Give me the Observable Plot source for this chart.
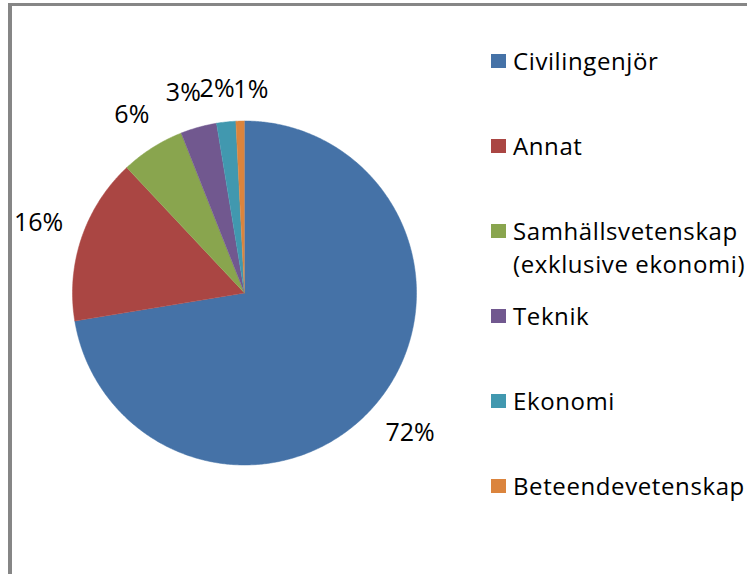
<!DOCTYPE html>
<html>
<head>
<meta charset="utf-8">
<script src="https://cdn.jsdelivr.net/npm/d3@7"></script>
<script src="https://cdn.jsdelivr.net/npm/@observablehq/plot@0.6"></script>
<style>
  html, body { margin: 0; padding: 0; background: #fff; }
  #wrap { position: relative; width: 747px; height: 574px; overflow: hidden; font-family: "Open Sans", sans-serif; }
  #frame { position: absolute; left: 8px; top: 3px; width: 800px; height: 700px; border-left: 4px solid #868686; border-top: 3px solid #868686; box-sizing: border-box; }
  #chart { position: absolute; left: 0; top: 0; }
  .lg-sw { position: absolute; width: 15px; height: 14px; }
  .lg-tx { position: absolute; font-size: 24px; line-height: 33px; color: #000; white-space: nowrap; letter-spacing: 0.6px; }
</style>
</head>
<body>
<div id="wrap"><div id="frame"></div><div id="chart"></div></div>
<script>
// ---- data ----
const categories = ["Civilingenjör", "Annat", "Samhällsvetenskap (exklusive ekonomi)", "Teknik", "Ekonomi", "Beteendevetenskap"];
const shares = [72.4, 15.6, 6.0, 3.4, 1.8, 0.8];
const pctLabels = ["72%", "16%", "6%", "3%", "2%", "1%"];
const legendLines = [["Civilingenjör"], ["Annat"], ["Samhällsvetenskap", "(exklusive ekonomi)"], ["Teknik"], ["Ekonomi"], ["Beteendevetenskap"]];
const colors = ["#4572A7", "#AA4643", "#89A54E", "#71588F", "#4198AF", "#DB843D"];

// ---- layout ----
const W = 747, H = 574;
const cx = 244, cy = 292.5, R = 172;
const labelFont = 25;

const pie = d3.pie().sort(null).value(d => d)(shares);

// slice polygons (unit circle coordinates)
const pts = [];
pie.forEach((p, i) => {
  const name = categories[i];
  pts.push({name, x: 0, y: 0});
  const n = Math.max(2, Math.ceil((p.endAngle - p.startAngle) / (Math.PI / 360)));
  for (let k = 0; k <= n; k++) {
    const a = p.startAngle + (p.endAngle - p.startAngle) * k / n;
    pts.push({name, x: Math.sin(a), y: Math.cos(a)});
  }
});

// label positions (pixel offsets, best-fit outside)
const est = s => s.split("").reduce((w, c) => w + (c === "%" ? 0.82 : 0.57), 0) * labelFont;
const hh = 13;
let labs = pie.map((p, i) => {
  const a = (p.startAngle + p.endAngle) / 2;
  const dx = Math.sin(a), dy = -Math.cos(a);
  const w = est(pctLabels[i]);
  const ext = Math.abs(dx) * w / 2 + Math.abs(dy) * hh;
  const d = R + 18 + ext;
  return {text: pctLabels[i], px: dx * d, py: dy * d, w};
});
// simple horizontal de-overlap
for (let it = 0; it < 50; it++) {
  for (let i = 0; i < labs.length; i++) for (let j = i + 1; j < labs.length; j++) {
    const A = labs[i], B = labs[j];
    if (Math.abs(A.py - B.py) < 2 * hh) {
      const need = (A.w + B.w) / 2 - 1;
      const gap = Math.abs(A.px - B.px);
      if (gap < need) {
        const s = (need - gap) / 2 * (A.px < B.px ? -1 : 1);
        A.px += s; B.px -= s;
      }
    }
  }
}
const labelData = labs.map(l => ({text: l.text, x: l.px / R, y: -l.py / R}));

const chart = Plot.plot({
  width: W, height: H,
  margin: 0,
  x: {domain: [-1, 1], range: [cx - R, cx + R], axis: null},
  y: {domain: [-1, 1], range: [cy + R, cy - R], axis: null},
  color: {domain: categories, range: colors},
  style: {background: "transparent", fontFamily: "'Open Sans', sans-serif"},
  marks: [
    Plot.line(pts, {x: "x", y: "y", z: "name", fill: "name", stroke: "name", strokeWidth: 0.5, curve: "linear"}),
    Plot.text(labelData, {x: "x", y: "y", text: "text", fontSize: labelFont, fill: "#000", textAnchor: "middle", lineAnchor: "middle"})
  ]
});
document.getElementById("chart").appendChild(chart);

// legend
const wrap = document.getElementById("wrap");
const lgTop = 61, lgStep = 85;
categories.forEach((c, i) => {
  const yc = lgTop + i * lgStep;
  const sw = document.createElement("div");
  sw.className = "lg-sw";
  sw.style.left = "491px"; sw.style.top = (yc - 7) + "px";
  sw.style.background = colors[i];
  wrap.appendChild(sw);
  const tx = document.createElement("div");
  tx.className = "lg-tx";
  tx.style.left = "513px";
  tx.style.top = (yc + 9 - 25.8) + "px";
  tx.innerHTML = legendLines[i].join("<br>");
  wrap.appendChild(tx);
});
</script>
</body>
</html>
